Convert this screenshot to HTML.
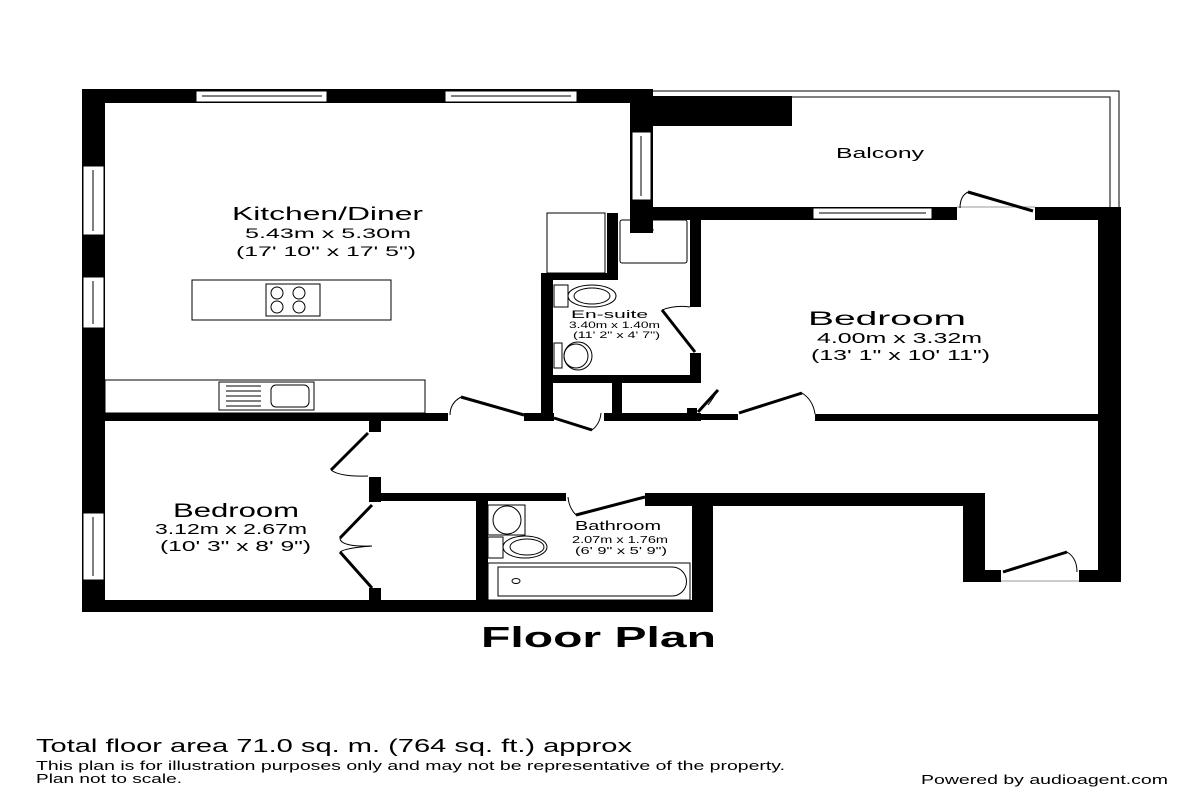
<!DOCTYPE html>
<html><head><meta charset="utf-8"><style>
body{margin:0;background:#fff;width:1200px;height:800px;overflow:hidden;font-family:"Liberation Sans",Arial,sans-serif}
svg{position:absolute;left:0;top:0}
</style></head><body>
<svg width="1200" height="800" viewBox="0 0 1200 800" font-family="Liberation Sans, Arial, sans-serif">
<g fill="#000">
<rect x="82" y="89" width="23" height="523"/>
<rect x="82" y="89" width="571" height="14"/>
<rect x="630" y="89" width="23" height="144"/>
<rect x="630" y="96" width="162" height="30"/>
<rect x="630" y="207" width="327" height="13"/>
<rect x="1035" y="207" width="84" height="13"/>
<rect x="1098" y="207" width="23" height="375"/>
<rect x="607" y="213" width="11" height="67"/>
<rect x="541" y="273" width="77" height="7"/>
<rect x="541" y="273" width="12" height="147"/>
<rect x="690" y="213" width="11" height="94"/>
<rect x="690" y="353" width="11" height="30"/>
<rect x="541" y="375" width="160" height="8"/>
<rect x="612" y="375" width="10" height="40"/>
<rect x="82" y="413" width="366" height="8"/>
<rect x="524" y="413" width="30" height="8"/>
<rect x="604" y="413" width="97" height="8"/>
<rect x="687" y="408" width="10" height="6"/>
<rect x="696" y="414" width="42" height="6"/>
<rect x="815" y="414" width="290" height="7"/>
<rect x="369" y="418" width="12" height="14"/>
<rect x="369" y="477" width="12" height="25"/>
<rect x="369" y="588" width="12" height="12"/>
<rect x="369" y="493" width="197" height="8"/>
<rect x="645" y="493" width="340" height="13"/>
<rect x="476" y="493" width="12" height="112"/>
<rect x="692" y="493" width="21" height="119"/>
<rect x="963" y="493" width="22" height="89"/>
<rect x="963" y="570" width="38" height="12"/>
<rect x="1079" y="570" width="42" height="12"/>
<rect x="82" y="600" width="631" height="12"/>
</g>
<g fill="#fff" stroke="#000" stroke-width="1">
<rect x="196" y="91" width="131" height="11"/><line x1="202" y1="96" x2="322" y2="96"/>
<rect x="445" y="91" width="132" height="11"/><line x1="451" y1="96" x2="571" y2="96"/>
<rect x="83" y="166" width="21" height="69"/><line x1="93" y1="170" x2="93" y2="231"/>
<rect x="83" y="277" width="21" height="51"/><line x1="93" y1="281" x2="93" y2="324"/>
<rect x="83" y="513" width="21" height="67"/><line x1="93" y1="517" x2="93" y2="576"/>
<rect x="632" y="132" width="19" height="68"/><line x1="641" y1="136" x2="641" y2="196"/>
<rect x="813" y="208" width="119" height="11"/><line x1="819" y1="213" x2="926" y2="213"/>
</g>
<g fill="none" stroke="#000" stroke-width="1">
<polyline points="653,91 1119,91 1119,207"/>
<polyline points="653,97 1110,97 1110,207"/>
<line x1="957" y1="207" x2="1035" y2="207" stroke="#999"/>
<line x1="1001" y1="581" x2="1079" y2="581" stroke="#999"/>
<rect x="192" y="280" width="199" height="40"/>
<rect x="266" y="284" width="54" height="32"/>
<circle cx="277" cy="293" r="6"/><circle cx="299" cy="293" r="6"/>
<circle cx="277" cy="307" r="6"/><circle cx="299" cy="307" r="6"/>
<rect x="105" y="380" width="320" height="33"/>
<rect x="219" y="382" width="95" height="28"/>
<line x1="226" y1="386" x2="261" y2="386"/><line x1="226" y1="391" x2="261" y2="391"/><line x1="226" y1="396" x2="261" y2="396"/><line x1="226" y1="401" x2="261" y2="401"/><line x1="226" y1="406" x2="261" y2="406"/>
<rect x="271" y="385" width="38" height="22" rx="5"/>
<rect x="547" y="213" width="58" height="60"/>
<rect x="620" y="220" width="67" height="43" rx="2"/><circle cx="651" cy="230" r="2"/>
<rect x="554" y="285" width="14" height="22"/><ellipse cx="592" cy="296" rx="24" ry="11"/><ellipse cx="592" cy="296" rx="18" ry="8"/>
<rect x="554" y="343" width="8" height="25"/><circle cx="578" cy="356" r="14"/><circle cx="576" cy="356" r="12"/>
<rect x="488" y="505" width="37" height="30"/><circle cx="507" cy="520" r="14"/>
<rect x="488" y="537" width="15" height="21"/><ellipse cx="525" cy="547" rx="22" ry="11"/><ellipse cx="527" cy="547" rx="17" ry="8"/>
<rect x="488" y="563" width="202" height="37"/>
<path d="M498 567 H672 A14 14 0 0 1 672 596 H498 Z"/>
<ellipse cx="516" cy="581" rx="4" ry="2.5"/>
<path d="M461 397 Q450 403 450 415"/>
<path d="M601 413 Q600 424 592 430"/>
<path d="M662 310 Q675 305 690 307"/>
<path d="M718 390 Q712 400 708 405"/>
<path d="M802 393 Q813 400 815 414"/>
<path d="M968 192 Q960 196 960 208"/>
<path d="M331 470 Q340 477 368 476"/>
<path d="M340 538 Q340 547 372 546"/>
<path d="M340 552 Q345 548 372 546"/>
<path d="M1067 552 Q1077 558 1077 572"/>
<path d="M576 515 Q569 508 568 497"/>
</g>
<g stroke="#000" stroke-width="3" fill="none">
<line x1="461" y1="397" x2="524" y2="415"/>
<line x1="554" y1="418" x2="592" y2="430"/>
<line x1="662" y1="310" x2="695" y2="352"/>
<line x1="698" y1="412" x2="718" y2="390"/>
<line x1="739" y1="413" x2="802" y2="393"/>
<line x1="968" y1="192" x2="1033" y2="211"/>
<line x1="368" y1="433" x2="331" y2="470"/>
<line x1="372" y1="505" x2="340" y2="538"/>
<line x1="340" y1="552" x2="372" y2="588"/>
<line x1="645" y1="497" x2="576" y2="515"/>
<line x1="1003" y1="572" x2="1067" y2="552"/>
</g>
<g fill="#000" lengthAdjust="spacingAndGlyphs">
<text x="232" y="220" font-size="18" textLength="191" lengthAdjust="spacingAndGlyphs">Kitchen/Diner</text>
<text x="245" y="238" font-size="14" textLength="166" lengthAdjust="spacingAndGlyphs">5.43m x 5.30m</text>
<text x="236" y="256" font-size="14" textLength="180" lengthAdjust="spacingAndGlyphs">(17' 10" x 17' 5")</text>
<text x="836" y="158" font-size="15" textLength="88" lengthAdjust="spacingAndGlyphs">Balcony</text>
<text x="808" y="325" font-size="19" textLength="158" lengthAdjust="spacingAndGlyphs">Bedroom</text>
<text x="817" y="343" font-size="15" textLength="165" lengthAdjust="spacingAndGlyphs">4.00m x 3.32m</text>
<text x="811" y="360" font-size="15" textLength="179" lengthAdjust="spacingAndGlyphs">(13' 1" x 10' 11")</text>
<text x="571" y="318" font-size="11" textLength="77" lengthAdjust="spacingAndGlyphs">En-suite</text>
<text x="569" y="328" font-size="9" textLength="91" lengthAdjust="spacingAndGlyphs">3.40m x 1.40m</text>
<text x="573" y="338" font-size="9" textLength="87" lengthAdjust="spacingAndGlyphs">(11' 2" x 4' 7")</text>
<text x="173" y="517" font-size="19" textLength="126" lengthAdjust="spacingAndGlyphs">Bedroom</text>
<text x="155" y="534" font-size="15" textLength="152" lengthAdjust="spacingAndGlyphs">3.12m x 2.67m</text>
<text x="160" y="551" font-size="15" textLength="151" lengthAdjust="spacingAndGlyphs">(10' 3" x 8' 9")</text>
<text x="575" y="530" font-size="13" textLength="86" lengthAdjust="spacingAndGlyphs">Bathroom</text>
<text x="572" y="543" font-size="10" textLength="96" lengthAdjust="spacingAndGlyphs">2.07m x 1.76m</text>
<text x="575" y="554" font-size="10" textLength="92" lengthAdjust="spacingAndGlyphs">(6' 9" x 5' 9")</text>
<text x="481" y="647" font-size="29" font-weight="bold" textLength="235" lengthAdjust="spacingAndGlyphs">Floor Plan</text>
<text x="36" y="752" font-size="18" textLength="596" lengthAdjust="spacingAndGlyphs">Total floor area 71.0 sq. m. (764 sq. ft.) approx</text>
<text x="36" y="770" font-size="13" textLength="749" lengthAdjust="spacingAndGlyphs">This plan is for illustration purposes only and may not be representative of the property.</text>
<text x="36" y="783" font-size="13" textLength="146" lengthAdjust="spacingAndGlyphs">Plan not to scale.</text>
<text x="921" y="784" font-size="13" textLength="247" lengthAdjust="spacingAndGlyphs">Powered by audioagent.com</text>
</g>
</svg>
</body></html>
